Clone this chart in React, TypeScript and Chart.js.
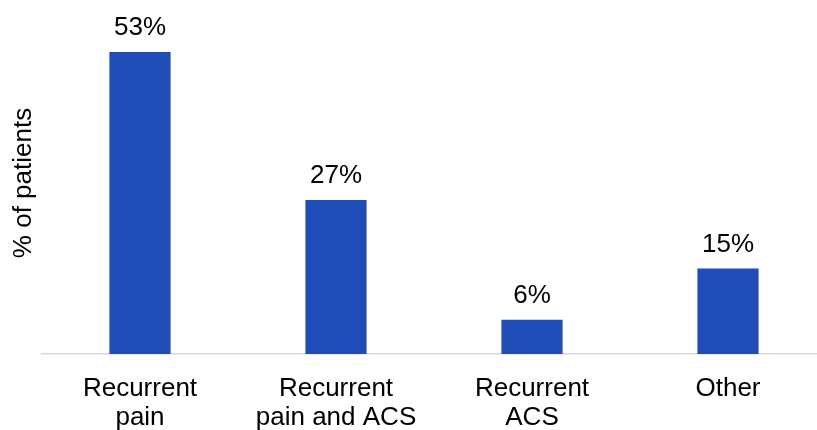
import React, { useEffect, useRef } from "react";
import { Chart, registerables } from "chart.js";

Chart.register(...registerables);

const categories: string[][] = [
  ["Recurrent", "pain"],
  ["Recurrent", "pain and ACS"],
  ["Recurrent", "ACS"],
  ["Other"],
];
const values: number[] = [53, 27, 6, 15];
const yAxisTitle = "% of patients";

const FONT = '"Liberation Sans", Arial, sans-serif';

const labelPlugin = {
  id: "barLabels",
  afterDatasetsDraw(chart: any) {
    const ctx = chart.ctx;
    const meta = chart.getDatasetMeta(0);
    ctx.save();
    ctx.font = `26px ${FONT}`;
    ctx.fillStyle = "#000000";
    ctx.textAlign = "center";
    ctx.textBaseline = "alphabetic";
    meta.data.forEach((bar: any, i: number) => {
      ctx.fillText(`${values[i]}%`, bar.x, bar.y - 17);
    });
    ctx.restore();
  },
};

export default function App() {
  const ref = useRef<HTMLCanvasElement | null>(null);
  useEffect(() => {
    document.body.style.margin = "0";
    document.body.style.overflow = "hidden";
    const canvas = ref.current!;
    const chart = new Chart(canvas, {
      type: "bar",
      data: {
        labels: categories,
        datasets: [
          {
            data: values,
            backgroundColor: "#1F4CB7",
            borderWidth: 0,
            barPercentage: 0.312,
            categoryPercentage: 1,
          },
        ],
      },
      options: {
        responsive: false,
        animation: false,
        devicePixelRatio: 1,
        layout: { padding: { top: 12, right: 0, bottom: 0, left: 0 } },
        plugins: {
          legend: { display: false },
          tooltip: { enabled: false },
        },
        scales: {
          x: {
            grid: { display: false, drawTicks: false },
            border: { display: true, color: "#d9d9d9", width: 1.5 },
            ticks: {
              color: "#000000",
              font: { family: FONT, size: 26, lineHeight: 1.12 },
              padding: 20,
              maxRotation: 0,
              autoSkip: false,
            },
            afterFit: (s: any) => {
              s.height = 76;
            },
          },
          y: {
            min: 0,
            max: 60,
            grid: { display: false, drawTicks: false },
            border: { display: false },
            ticks: { display: false },
            title: {
              display: true,
              text: yAxisTitle,
              color: "#000000",
              font: { family: FONT, size: 26 },
              padding: { top: 8, bottom: 0 },
            },
            afterFit: (s: any) => {
              s.width = 42;
            },
          },
        },
      },
      plugins: [labelPlugin],
    });
    return () => chart.destroy();
  }, []);
  return (
    <div style={{ width: 817, height: 430, overflow: "hidden", position: "relative" }}>
      <canvas ref={ref} width={826} height={430} style={{ width: 826, height: 430, display: "block" }} />
    </div>
  );
}
